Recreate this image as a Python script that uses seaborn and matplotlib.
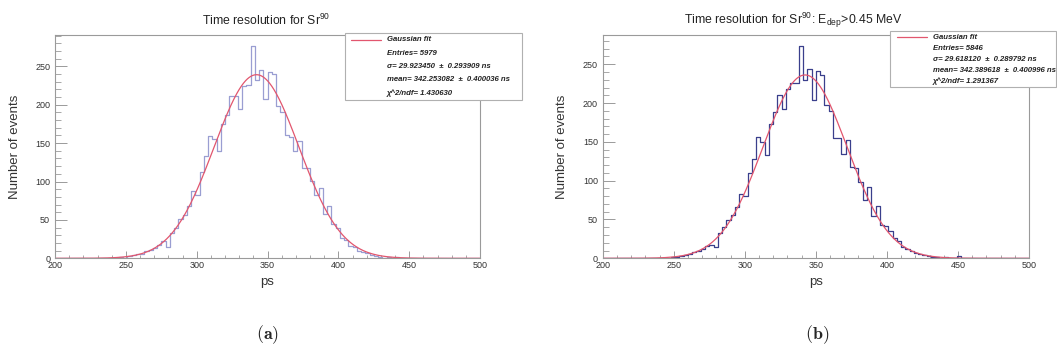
import numpy as np
import pandas as pd
import matplotlib
matplotlib.use("Agg")
import matplotlib.pyplot as plt
import seaborn as sns
from matplotlib.patches import Rectangle
from matplotlib.lines import Line2D
from matplotlib.ticker import MultipleLocator

# ---------------- data ----------------
x_min, x_max, n_bins = 200, 500, 100

counts_a = [0, 0, 0, 0, 0, 0, 0, 0, 0, 1,
            0, 1, 0, 1, 1, 2, 1, 3, 4, 5,
            6, 9, 11, 13, 17, 22, 15, 33, 40, 51,
            56, 68, 88, 82, 113, 133, 159, 155, 140, 175,
            186, 212, 212, 194, 224, 226, 277, 232, 245, 207,
            243, 240, 198, 190, 160, 158, 140, 153, 118, 117,
            101, 82, 91, 58, 68, 45, 40, 27, 24, 16,
            15, 10, 8, 7, 4, 3, 2, 1, 2, 1,
            2, 1, 1, 0, 1, 0, 0, 0, 1, 0,
            0, 0, 0, 0, 0, 0, 0, 0, 0, 0]

counts_b = [0, 0, 0, 0, 0, 0, 0, 0, 0, 1,
            0, 0, 0, 1, 1, 1, 2, 2, 3, 4,
            6, 8, 10, 12, 16, 17, 14, 32, 40, 49,
            56, 66, 83, 80, 110, 128, 156, 150, 133, 173,
            188, 210, 193, 218, 226, 226, 274, 230, 244, 204,
            241, 236, 198, 190, 155, 155, 135, 153, 117, 116,
            98, 75, 92, 54, 67, 43, 41, 35, 26, 22,
            15, 12, 10, 7, 5, 4, 3, 2, 2, 1,
            2, 1, 0, 3, 1, 0, 1, 0, 0, 1,
            0, 0, 0, 0, 0, 0, 0, 0, 0, 0]

title_a = "Time resolution for Sr$^{90}$"
title_b = "Time resolution for Sr$^{90}$: E$_{dep}$>0.45 MeV"

entries_a, entries_b = 5979, 5846
sigma_a, sigma_err_a = 29.923450, 0.293909
sigma_b, sigma_err_b = 29.618120, 0.289792
mean_a, mean_err_a = 342.253082, 0.400036
mean_b, mean_err_b = 342.389618, 0.400996
chi2_a, chi2_b = 1.430630, 1.291367

x_ticks = [200, 250, 300, 350, 400, 450, 500]
y_ticks = [0, 50, 100, 150, 200, 250]

# ---------------- style ----------------
sns.set_style("ticks")
plt.rcParams["font.family"] = ["Liberation Sans", "DejaVu Sans"]
plt.rcParams["mathtext.fontset"] = "custom"
plt.rcParams["mathtext.rm"] = "Liberation Sans"
plt.rcParams["mathtext.it"] = "Liberation Sans:italic"
plt.rcParams["mathtext.bf"] = "Liberation Sans:bold"
plt.rcParams["mathtext.default"] = "regular"

W, H = 1057, 354
fig = plt.figure(figsize=(W / 100, H / 100), dpi=100)
fig.patch.set_facecolor("white")

edges = np.linspace(x_min, x_max, n_bins + 1)
centers = 0.5 * (edges[:-1] + edges[1:])
bin_w = edges[1] - edges[0]

panels = [
    dict(left=55, right=480, counts=counts_a, color="#9a9ed2", title=title_a,
         title_x=266, entries=entries_a, sigma=sigma_a, sigma_err=sigma_err_a,
         mean=mean_a, mean_err=mean_err_a, chi2=chi2_a,
         box=(345, 33, 522, 100), line_x=(351, 381), text_x=387, tag="(a)", tag_x=268),
    dict(left=602.7, right=1029, counts=counts_b, color="#3a3f8c", title=title_b,
         title_x=793, entries=entries_b, sigma=sigma_b, sigma_err=sigma_err_b,
         mean=mean_b, mean_err=mean_err_b, chi2=chi2_b,
         box=(890, 31.5, 1056, 87), line_x=(897, 927), text_x=933, tag="(b)", tag_x=817),
]

top_px, bot_px = 35, 258.3
frame_col = "#9a9a9a"
for p in panels:
    ax = fig.add_axes([p["left"] / W, 1 - bot_px / H, (p["right"] - p["left"]) / W,
                       (bot_px - top_px) / H])
    df = pd.DataFrame({"ps": centers, "n": p["counts"]})
    sns.histplot(data=df, x="ps", weights="n", bins=n_bins, binrange=(x_min, x_max),
                 element="step", fill=False, color=p["color"], linewidth=0.9, ax=ax)
    amp = p["entries"] * bin_w / (p["sigma"] * np.sqrt(2 * np.pi))
    xf = np.linspace(x_min, x_max, 1201)
    yf = amp * np.exp(-0.5 * ((xf - p["mean"]) / p["sigma"]) ** 2)
    sns.lineplot(x=xf, y=yf, color="#e2566e", linewidth=0.9, ax=ax)

    ax.set_xlim(x_min, x_max)
    ax.set_ylim(0, 1.05 * max(p["counts"]))
    ax.set_xticks(x_ticks)
    ax.set_yticks(y_ticks)
    ax.xaxis.set_minor_locator(MultipleLocator(10))
    ax.yaxis.set_minor_locator(MultipleLocator(10))
    ax.tick_params(axis="y", which="major", direction="in", length=8.5, width=0.7,
                   color=frame_col, labelsize=6.5, labelcolor="#333333", pad=3.5)
    ax.tick_params(axis="y", which="minor", direction="in", length=4.3, width=0.6,
                   color=frame_col)
    ax.tick_params(axis="x", which="major", direction="in", length=5, width=0.7,
                   color=frame_col, labelsize=6.5, labelcolor="#333333", pad=2)
    ax.tick_params(axis="x", which="minor", direction="in", length=2.5, width=0.6,
                   color=frame_col)
    for s in ax.spines.values():
        s.set_color(frame_col)
        s.set_linewidth(0.8)

    ax.set_xlabel("ps", fontsize=9.5, color="#333333")
    ax.xaxis.set_label_coords(0.5, -0.08)
    ax.set_ylabel("Number of events", fontsize=9.5, color="#333333")
    ax.yaxis.set_label_coords(-0.081, 0.5)

    fig.text(p["title_x"] / W, 1 - 20 / H, p["title"], ha="center", va="center",
             fontsize=8.8, color="#222222")

    # statistics box
    x0, y0, x1, y1 = p["box"]
    fig.patches.append(Rectangle((x0 / W, 1 - y1 / H), (x1 - x0) / W, (y1 - y0) / H,
                                 transform=fig.transFigure, facecolor="white",
                                 edgecolor="#b0b0b0", linewidth=0.8, zorder=5))
    lines = ["Gaussian fit",
             f"Entries= {p['entries']}",
             f"σ= {p['sigma']:.6f}  ±  {p['sigma_err']:.6f} ns",
             f"mean= {p['mean']:.6f}  ±  {p['mean_err']:.6f} ns",
             f"χ^2/ndf= {p['chi2']:.6f}"]
    step = (y1 - y0) / 5
    for k, t in enumerate(lines):
        yy = y0 + step * (k + 0.5)
        fig.text(p["text_x"] / W, 1 - yy / H, t, ha="left", va="center",
                 fontsize=5.6, style="italic", weight="bold", color="#222222", zorder=6)
    ly = y0 + step * 0.5
    fig.lines.append(Line2D([p["line_x"][0] / W, p["line_x"][1] / W],
                            [1 - ly / H, 1 - ly / H], transform=fig.transFigure,
                            color="#e2566e", linewidth=0.9, zorder=6))

    fig.text(p["tag_x"] / W, 1 - 335 / H, r"$\mathbf{" + p["tag"] + "}$",
             math_fontfamily="cm", ha="center", va="center", fontsize=13)

fig.savefig("out.png", dpi=100, facecolor="white")
